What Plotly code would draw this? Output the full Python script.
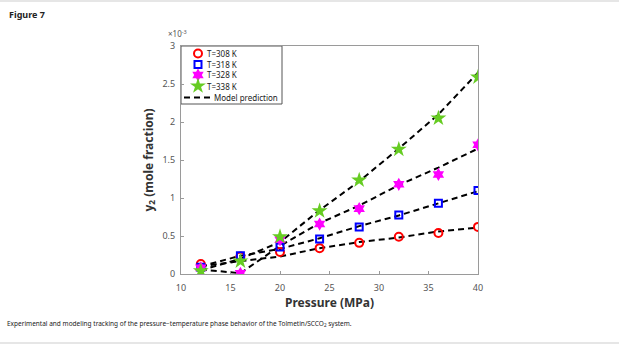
import plotly.graph_objects as go

pressure = [12, 16, 20, 24, 28, 32, 36, 40]

y308 = [0.13, 0.23, 0.29, 0.34, 0.41, 0.49, 0.54, 0.62]
y318 = [0.09, 0.24, 0.355, 0.46, 0.62, 0.775, 0.93, 1.10]
y328 = [0.08, 0.01, 0.45, 0.657, 0.86, 1.18, 1.31, 1.70]
y338 = [0.04, 0.17, 0.49, 0.83, 1.235, 1.64, 2.05, 2.59]

m308 = [0.10, 0.17, 0.23, 0.34, 0.42, 0.48, 0.56, 0.61]
m318 = [0.10, 0.24, 0.33, 0.47, 0.63, 0.77, 0.93, 1.09]
m328 = [0.06, 0.01, 0.37, 0.67, 0.90, 1.17, 1.40, 1.65]
m338 = [0.05, 0.20, 0.42, 0.84, 1.22, 1.65, 2.10, 2.65]

series_names = ["T=308 K", "T=318 K", "T=328 K", "T=338 K"]
model_name = "Model prediction"
x_ticks = [10, 15, 20, 25, 30, 35, 40]
y_ticks = [0, 0.5, 1, 1.5, 2, 2.5, 3]
y_tick_labels = ["0", "0.5", "1", "1.5", "2", "2.5", "3"]

W, H = 619, 344
L, R, T, B = 181, 478, 46, 274
PW, PH = R - L, B - T


def px(x):
    return (x - L) / PW


def py(y):
    return (B - y) / PH


fig = go.Figure()

models = [m308, m318, m328, m338]
for m in models:
    fig.add_trace(go.Scatter(
        x=pressure, y=m, mode="lines",
        line=dict(color="black", width=2, dash="6px,4px"),
        showlegend=False, hoverinfo="skip",
    ))

marker_styles = [
    dict(symbol="circle-open", color="#ff0000", size=8, line=dict(width=2, color="#ff0000")),
    dict(symbol="square-open", color="#0000ff", size=7, line=dict(width=2, color="#0000ff")),
    dict(symbol="hexagram", color="#ff00ff", size=10, line=dict(width=0)),
    dict(symbol="star", color="#66cc22", size=12, line=dict(width=0)),
]
for name, ys, ms in zip(series_names, [y308, y318, y328, y338], marker_styles):
    fig.add_trace(go.Scatter(x=pressure, y=ys, mode="markers", marker=ms, name=name, showlegend=False))

# ---- manual compact legend (pixel-coordinate overlay axes) ----
leg_rows = [53.5, 64.5, 75, 86, 97.5]
leg_marker_x = 198
for name, ms, yy in zip(series_names, marker_styles, leg_rows):
    fig.add_trace(go.Scatter(x=[leg_marker_x], y=[yy], mode="markers", marker=ms,
                             xaxis="x2", yaxis="y2", showlegend=False, hoverinfo="skip"))
    fig.add_annotation(xref="paper", yref="paper", x=px(205), y=py(yy), xanchor="left", yanchor="middle",
                       text=name, showarrow=False, font=dict(family="Noto Sans", size=8, color="#222222"))
fig.add_trace(go.Scatter(x=[184, 212], y=[leg_rows[4], leg_rows[4]], mode="lines",
                         line=dict(color="black", width=2, dash="6px,4px"),
                         xaxis="x2", yaxis="y2", showlegend=False, hoverinfo="skip"))
fig.add_annotation(xref="paper", yref="paper", x=px(212), y=py(leg_rows[4]), xanchor="left", yanchor="middle",
                   text=model_name, showarrow=False, font=dict(family="Noto Sans", size=8, color="#222222"))
fig.add_shape(type="rect", xref="paper", yref="paper", x0=0, x1=px(282), y0=py(104), y1=1,
              fillcolor="white", line=dict(color="#555555", width=1), layer="below")

axis_common = dict(
    showline=True, linecolor="#9a9a9a", linewidth=1, mirror=True,
    ticks="inside", ticklen=3, tickcolor="#9a9a9a",
    showgrid=False, zeroline=False,
    tickfont=dict(family="Noto Sans", size=9, color="#555555"),
)

fig.update_layout(
    width=W, height=H,
    margin=dict(l=L, r=W - R, t=T, b=H - B),
    paper_bgcolor="white", plot_bgcolor="white",
    showlegend=False,
    xaxis=dict(range=[10, 40], tickvals=x_ticks, ticklabelstandoff=5, **axis_common,
               title=dict(text="<b>Pressure (MPa)</b>", font=dict(family="Noto Sans", size=12, color="#333333"), standoff=2)),
    yaxis=dict(range=[0, 3], tickvals=y_ticks, ticktext=y_tick_labels, ticklabelstandoff=3, **axis_common,
               title=dict(text="<b>y<sub>2</sub> (mole fraction)</b>", font=dict(family="Noto Sans", size=12, color="#333333"), standoff=6)),
    xaxis2=dict(overlaying="x", range=[L, R], visible=False, fixedrange=True),
    yaxis2=dict(overlaying="y", range=[B, T], visible=False, fixedrange=True),
)

fig.add_annotation(xref="paper", yref="paper", x=px(166), y=py(41), xanchor="left", yanchor="bottom",
                   text="×10<sup>-3</sup>", showarrow=False,
                   font=dict(family="Noto Sans", size=8, color="#555555"))
fig.add_annotation(xref="paper", yref="paper", x=px(7), y=py(15), xanchor="left", yanchor="middle",
                   text="<b>Figure 7</b>", showarrow=False,
                   font=dict(family="Noto Sans", size=9, color="#222222"))
fig.add_annotation(xref="paper", yref="paper", x=px(5), y=py(323), xanchor="left", yanchor="middle",
                   text="Experimental and modeling tracking of the pressure\u2212temperature phase behavior of the Tolmetin/SCCO<sub>2</sub> system.",
                   showarrow=False, font=dict(family="Noto Sans", size=6.5, color="#222222"))

# thin grey page edges
fig.add_shape(type="rect", xref="paper", yref="paper", x0=px(0), x1=px(W), y0=py(2), y1=py(0),
              fillcolor="#e6e6e6", line=dict(width=0), layer="below")
fig.add_shape(type="rect", xref="paper", yref="paper", x0=px(0), x1=px(W), y0=py(H), y1=py(H - 2),
              fillcolor="#e6e6e6", line=dict(width=0), layer="below")

fig.write_html("out.html", config={"displayModeBar": False},
               post_script="document.body.style.margin='0';document.body.style.overflow='hidden';")
